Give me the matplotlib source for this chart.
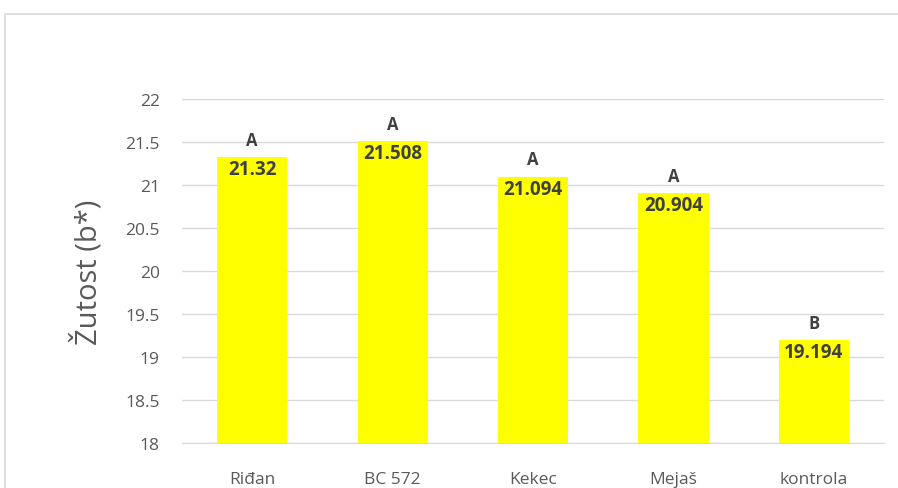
import matplotlib.pyplot as plt
from matplotlib.patches import Rectangle

# -----------------------
# DATA
# -----------------------
categories = ["Riđan", "BC 572", "Kekec", "Mejaš", "kontrola"]
values = [21.32, 21.508, 21.094, 20.904, 19.194]
letters = ["A", "A", "A", "A", "B"]
yticks = [18, 18.5, 19, 19.5, 20, 20.5, 21, 21.5, 22]

txt = "#595959"
dark = "#404040"
grid = "#d9d9d9"

plt.rcParams['font.family'] = ['Open Sans', 'DejaVu Sans']

fig = plt.figure(figsize=(8.98, 4.89), dpi=100)
ax = fig.add_axes([182 / 898, 1 - 444 / 489, (884 - 182) / 898, (444 - 100) / 489])

# chart border (partially cropped, like the reference)
fig.patches.append(Rectangle((5 / 898, -0.1), 1.2, 1 - 15 / 489 + 0.1,
                             transform=fig.transFigure, fill=False,
                             edgecolor=grid, linewidth=1.2))

x = range(len(categories))
ax.bar(x, [v - 18 for v in values], bottom=18, width=0.5, color="#ffff00", zorder=2)

for i, (v, l) in enumerate(zip(values, letters)):
    ax.text(i, v - 0.02, f"{v:g}", ha="center", va="top", fontsize=13.5,
            fontweight="bold", color=dark, zorder=3)
    ax.text(i, v + 0.1, l, ha="center", va="bottom", fontsize=12,
            fontweight="bold", color=dark, zorder=3)

ax.set_ylim(18, 22)
ax.set_xlim(-0.5, len(categories) - 0.5)
ax.set_yticks(yticks)
ax.set_yticklabels([f"{t:g}" for t in yticks])
ax.set_xticks(list(x))
ax.set_xticklabels(categories)
ax.yaxis.grid(True, color=grid, linewidth=1, zorder=0)
ax.set_axisbelow(True)
for s in ["top", "right", "left"]:
    ax.spines[s].set_visible(False)
ax.spines["bottom"].set_color(grid)
ax.tick_params(axis="both", length=0, labelsize=12.5, colors=txt)
ax.tick_params(axis="y", pad=16)
ax.tick_params(axis="x", pad=20)
ax.set_ylabel("Žutost (b*)", fontsize=21, color=txt, labelpad=16)

plt.savefig("out.png", dpi=100)
